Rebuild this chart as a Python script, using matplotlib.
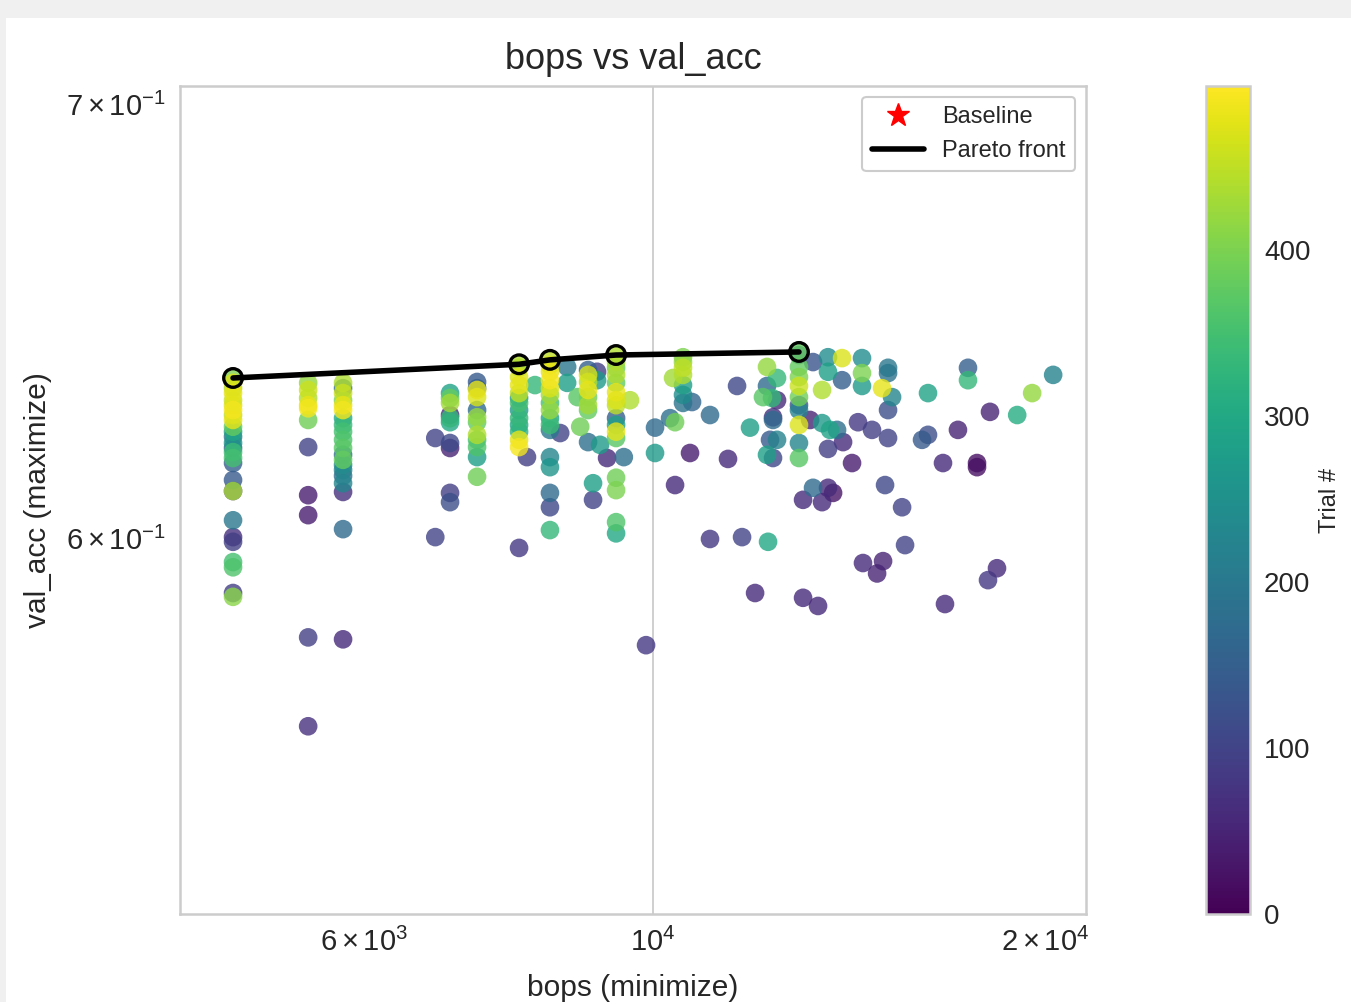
import numpy as np
import matplotlib
matplotlib.use("Agg")
import matplotlib.pyplot as plt
from matplotlib.lines import Line2D
from matplotlib.patches import Rectangle
from matplotlib.cm import ScalarMappable
from matplotlib.colors import Normalize

# ---------------- data ----------------
bops = [
    # column ~4757
    4757, 4757, 4757, 4757, 4757, 4757, 4757, 4757, 4757, 4757, 4757, 4757, 4757,
    4757, 4757, 4757, 4757, 4757, 4757, 4757, 4757, 4757, 4757, 4757, 4757, 4757, 4757,
    # column ~5433
    5433, 5433, 5433, 5433, 5433, 5433, 5433, 5433, 5433, 5433, 5433,
    # column ~5779
    5779, 5779, 5779, 5779, 5779, 5779, 5779, 5779, 5779, 5779, 5779, 5779, 5779,
    5779, 5779, 5779, 5779, 5779, 5779, 5779,
    # ~6803
    6803, 6803,
    # ~6983
    6983, 6983, 6983, 6983, 6983, 6983, 6983, 6983, 6983, 6983,
    # ~7325
    7325, 7325, 7325, 7325, 7325, 7325, 7325, 7325, 7325, 7325, 7325, 7325,
    # ~7890
    7890, 7890, 7890, 7890, 7890, 7890, 7890, 7890, 7890, 7890, 7890, 7890, 7890, 7890,
    8001, 8115,
    # ~8333
    8333, 8333, 8333, 8333, 8333, 8333, 8333, 8333, 8333, 8333, 8333, 8333, 8333,
    8333, 8333, 8333, 8485, 8590, 8590,
    # ~8914
    8914, 8914, 8914, 8914, 8914, 8914, 8914, 8914, 8791, 8750, 9105, 9219, 8993,
    8993, 9057, 9057,
    # ~9367
    9367, 9367, 9367, 9367, 9367, 9367, 9367, 9367, 9367, 9367, 9367, 9367, 9496,
    9367, 9367, 9367, 9367, 9601,
    # ~10544
    10544, 10544, 10544, 10544, 10544, 10544, 10544,
    # around 1e4 - 1.25e4
    10360, 10714, 10035, 10306, 10397, 10035, 10676, 10397, 11060, 11602, 11871,
    11418, 11060, 11705, 12256, 11978, 12233, 12452, 12233, 12146, 12342, 12452,
    12364, 12364, 12299, 12452, 12233, 12364,
    # column ~12945
    12945, 12945, 12945, 12945, 12945, 12945, 12945, 12945, 12945, 12945, 12945,
    # right part
    13271, 13627, 13970, 13627, 13485, 13970, 13202, 13485, 13676, 13847, 13995,
    13627, 14219, 14472, 14472, 14472, 14370, 14730, 15154, 15154, 15154, 14994,
    15262, 15154, 16264, 16093, 16264, 17149, 17456, 17456, 18149, 19043, 19554,
    20294, 16701, 17737, 17737, 15074, 15535, 13271, 13627, 13750, 13039, 13485,
    15617, 14497, 15021, 14863, 18375, 18085, 13039, 13389, 16760, 9877,
]

val_acc = [
    0.6351, 0.6340, 0.6328, 0.6317, 0.6301, 0.6290, 0.6279, 0.6268, 0.6257, 0.6242,
    0.6231, 0.6220, 0.6206, 0.6195, 0.6186, 0.6173, 0.6162, 0.6125, 0.6101, 0.6101,
    0.6038, 0.6002, 0.5992, 0.5949, 0.5938, 0.5884, 0.5876,
    0.6340, 0.6324, 0.6306, 0.6290, 0.6283, 0.6257, 0.6197, 0.6092, 0.6049, 0.5792, 0.5612,
    0.6340, 0.6328, 0.6317, 0.6301, 0.6290, 0.6279, 0.6261, 0.6246, 0.6231, 0.6213,
    0.6195, 0.6180, 0.6169, 0.6158, 0.6147, 0.6134, 0.6118, 0.6099, 0.6019, 0.5788,
    0.6217, 0.6002,
    0.6317, 0.6306, 0.6295, 0.6268, 0.6261, 0.6252, 0.6206, 0.6195, 0.6097, 0.6077,
    0.6342, 0.6328, 0.6324, 0.6308, 0.6279, 0.6263, 0.6252, 0.6224, 0.6213, 0.6197,
    0.6175, 0.6132,
    0.6382, 0.6374, 0.6353, 0.6335, 0.6317, 0.6306, 0.6295, 0.6279, 0.6261, 0.6246,
    0.6231, 0.6213, 0.6197, 0.5979, 0.6175, 0.6335,
    0.6392, 0.6380, 0.6365, 0.6346, 0.6328, 0.6313, 0.6295, 0.6279, 0.6261, 0.6246,
    0.6235, 0.6175, 0.6153, 0.6097, 0.6066, 0.6017, 0.6228, 0.6376, 0.6340,
    0.6369, 0.6358, 0.6342, 0.6324, 0.6308, 0.6290, 0.6279, 0.6208, 0.6242, 0.6308,
    0.6202, 0.6173, 0.6118, 0.6082, 0.6365, 0.6346,
    0.6403, 0.6387, 0.6374, 0.6358, 0.6340, 0.6319, 0.6301, 0.6290, 0.6261, 0.6246,
    0.6231, 0.6217, 0.6175, 0.6130, 0.6103, 0.6034, 0.6010, 0.6301,
    0.6398, 0.6387, 0.6374, 0.6358, 0.6335, 0.6313, 0.6295,
    0.6351, 0.6297, 0.6240, 0.6261, 0.6252, 0.6184, 0.6184, 0.6114, 0.6268, 0.6333,
    0.6240, 0.6171, 0.5998, 0.6002, 0.5992, 0.5884, 0.6376, 0.6351, 0.6333, 0.6308,
    0.6306, 0.6301, 0.6263, 0.6257, 0.6213, 0.6213, 0.6180, 0.6173,
    0.6410, 0.6403, 0.6376, 0.6353, 0.6333, 0.6308, 0.6290, 0.6279, 0.6246, 0.6206, 0.6173,
    0.6387, 0.6398, 0.6396, 0.6365, 0.6324, 0.6346, 0.6257, 0.6250, 0.6235, 0.6235,
    0.6208, 0.6193, 0.6162, 0.6396, 0.6362, 0.6333, 0.6252, 0.6235, 0.6217, 0.6374,
    0.6362, 0.6328, 0.6308, 0.6279, 0.6317, 0.6213, 0.6224, 0.6235, 0.6374, 0.6346,
    0.6275, 0.6268, 0.6317, 0.6358, 0.6162, 0.6162, 0.6153, 0.6114, 0.6066, 0.6108,
    0.6108, 0.6097, 0.6082, 0.6077, 0.5985, 0.5947, 0.5951, 0.5925, 0.5936, 0.5911,
    0.5874, 0.5857, 0.5861, 0.5776,
]

trial = [
    400, 470, 440, 480, 460, 470, 490, 450, 480, 380, 290, 190, 260, 150, 340, 350,
    150, 140, 60, 430, 200, 70, 90, 350, 360, 90, 410,
    420, 460, 440, 480, 490, 390, 100, 40, 40, 90, 70,
    440, 170, 460, 400, 480, 490, 300, 330, 350, 360, 370, 180, 380, 240, 220, 180,
    230, 70, 170, 60,
    100, 100,
    290, 380, 430, 60, 330, 300, 110, 50, 90, 120,
    140, 150, 480, 470, 170, 420, 380, 440, 350, 360, 280, 390,
    440, 440, 470, 480, 450, 260, 350, 270, 330, 300, 320, 480, 490, 80, 90, 330,
    450, 470, 480, 490, 470, 430, 350, 420, 290, 340, 200, 230, 260, 170, 110, 330,
    100, 200, 280,
    150, 470, 440, 480, 390, 430, 380, 180, 390, 370, 270, 60, 280, 100, 90, 270,
    440, 430, 390, 440, 380, 480, 470, 450, 150, 280, 480, 370, 180, 390, 400, 360,
    300, 440,
    400, 420, 450, 440, 280, 240, 190,
    430, 160, 170, 180, 390, 270, 40, 60, 170, 110, 280, 60, 80, 100, 300, 60, 420,
    330, 170, 370, 330, 60, 70, 170, 140, 220, 280, 110,
    380, 140, 380, 400, 460, 390, 130, 220, 470, 230, 370,
    130, 240, 470, 280, 440, 150, 50, 270, 290, 180, 60, 90, 40, 240, 400, 270, 80,
    90, 100, 200, 190, 480, 230, 120, 290, 140, 120, 50, 150, 330, 50, 310, 420, 220,
    60, 20, 20, 110, 100, 170, 60, 30, 60, 60, 100, 60, 50, 50, 60, 80, 60, 60, 60, 80,
]

pareto_bops = [4757, 7890, 8333, 9367, 12945]
pareto_acc = [0.6351, 0.6382, 0.6392, 0.6403, 0.6410]

x_limits = (4331, 21508)
y_limits = (0.525, 0.7045)
trial_max = 499

# ---------------- style ----------------
plt.style.use('seaborn-v0_8-whitegrid')
plt.rcParams['font.family'] = ['Liberation Sans', 'DejaVu Sans']
plt.rcParams['mathtext.fontset'] = 'custom'
plt.rcParams['mathtext.rm'] = 'Liberation Sans'
plt.rcParams['mathtext.it'] = 'Liberation Sans:italic'
plt.rcParams['mathtext.bf'] = 'Liberation Sans:bold'
plt.rcParams['text.color'] = '#262626'
plt.rcParams['axes.labelcolor'] = '#262626'
plt.rcParams['xtick.color'] = '#262626'
plt.rcParams['ytick.color'] = '#262626'

W, H = 1351, 1002
fig = plt.figure(figsize=(W / 100, H / 100), dpi=100, facecolor='#f0f0f0')
fig.patches.append(Rectangle((6 / W, 0), 1 - 6 / W, 1 - 18 / H,
                             transform=fig.transFigure, facecolor='white',
                             edgecolor='none', zorder=-10))

ax_l, ax_r, ax_t, ax_b = 180, 1086, 86, 914
ax = fig.add_axes([ax_l / W, 1 - ax_b / H, (ax_r - ax_l) / W, (ax_b - ax_t) / H])
cax = fig.add_axes([1206 / W, 1 - ax_b / H, 44 / W, (ax_b - ax_t) / H])

b = np.array(bops, dtype=float)
a = np.array(val_acc, dtype=float)
t = np.array(trial, dtype=float)
order = np.argsort(t, kind='stable')

norm = Normalize(vmin=0, vmax=trial_max)
ax.scatter(b[order], a[order], c=t[order], cmap='viridis', norm=norm,
           s=180, alpha=0.8, edgecolors='none', zorder=2)
ax.plot(pareto_bops, pareto_acc, color='black', lw=4, zorder=3)
ax.scatter(pareto_bops, pareto_acc, s=180, facecolors='none',
           edgecolors='black', linewidths=2.4, zorder=4)

ax.set_xscale('log')
ax.set_yscale('log')
ax.set_xlim(*x_limits)
ax.set_ylim(*y_limits)
ax.grid(True, which='major', color='#cccccc', lw=1.3)
ax.grid(False, which='minor')
for s in ax.spines.values():
    s.set_color('#cccccc')
    s.set_linewidth(1.8)
ax.tick_params(axis='both', which='both', labelsize=21, length=0, pad=10)

ax.set_title('bops vs val_acc', fontsize=26, pad=12)
ax.set_xlabel('bops (minimize)', fontsize=21.5, labelpad=12)
ax.set_ylabel('val_acc (maximize)', fontsize=21.5, labelpad=10)

handles = [
    Line2D([], [], marker='*', color='red', linestyle='none', markersize=17),
    Line2D([], [], color='black', lw=4),
]
leg = ax.legend(handles, ['Baseline', 'Pareto front'], loc='upper right',
                fontsize=17, frameon=True, fancybox=True, framealpha=1,
                borderpad=0.4, handlelength=2.2, borderaxespad=0.45)
leg.get_frame().set_edgecolor('#cccccc')
leg.get_frame().set_linewidth(1.5)

sm = ScalarMappable(norm=norm, cmap='viridis')
cb = fig.colorbar(sm, cax=cax)
cb.set_ticks([0, 100, 200, 300, 400])
cb.ax.tick_params(labelsize=20, length=0, pad=10)
cb.outline.set_edgecolor('#cccccc')
cb.outline.set_linewidth(1.8)
cb.set_label('Trial #', fontsize=17, labelpad=6)

fig.savefig('out.png', dpi=100, facecolor=fig.get_facecolor())
